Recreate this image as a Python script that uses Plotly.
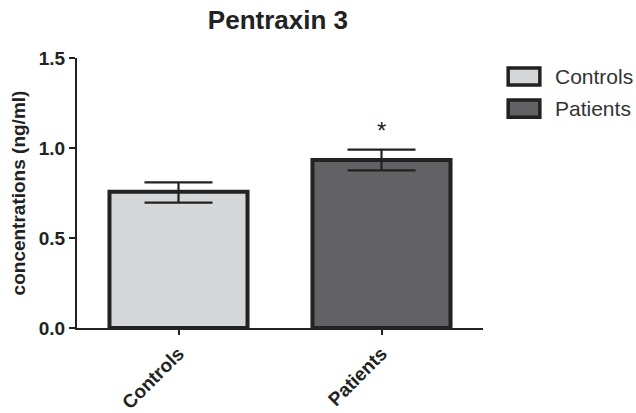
import plotly.graph_objects as go

# Pentraxin 3 levels (mean ± SEM)
groups = ["Controls", "Patients"]
means = [0.757, 0.933]
sem_up = [0.052, 0.058]
sem_down = [0.060, 0.057]
fills = ["#d6d7d9", "#626264"]
y_ticks = [0.0, 0.5, 1.0, 1.5]
y_tick_text = ["0.0", "0.5", "1.0", "1.5"]

INK = "#222222"
FONT = "Liberation Sans, Arial, sans-serif"

fig = go.Figure()
for g, m, up, dn, c in zip(groups, means, sem_up, sem_down, fills):
    fig.add_trace(go.Bar(
        x=[g], y=[m], name=g,
        marker=dict(color=c, line=dict(color=INK, width=4)),
        width=0.68,
        error_y=dict(type="data", symmetric=False, array=[up], arrayminus=[dn],
                     color=INK, thickness=2.2, width=34),
        showlegend=False,
    ))

# significance marker above the patients bar
fig.add_annotation(x=groups[1], y=means[1] + sem_up[1], text="*", showarrow=False,
                   yanchor="bottom", yshift=4,
                   font=dict(family=FONT, size=24, color=INK))

# legend: swatches with labels
legend_rows = [(0.963, 0.9), (0.844, 0.781)]
for (y1, y0), g, c in zip(legend_rows, groups, fills):
    fig.add_shape(type="rect", xref="paper", yref="paper",
                  x0=1.062, x1=1.14, y0=y0, y1=y1,
                  fillcolor=c, line=dict(color=INK, width=3.5))
    fig.add_annotation(xref="paper", yref="paper", x=1.172, y=(y0 + y1) / 2,
                       text=g, showarrow=False, xanchor="left", yanchor="middle",
                       font=dict(family=FONT, size=21, color="#333333"))

fig.update_layout(
    width=636, height=413,
    margin=dict(l=77, r=153, t=58, b=85),
    paper_bgcolor="white", plot_bgcolor="white",
    title=dict(text="<b>Pentraxin 3</b>", x=0.437, xanchor="center",
               y=0.952, yanchor="middle",
               font=dict(family=FONT, size=26, color=INK)),
    xaxis=dict(
        range=[-0.5, 1.5], showline=True, linecolor=INK, linewidth=2,
        ticks="outside", ticklen=5, tickwidth=2, tickcolor=INK,
        tickangle=-45, showgrid=False, zeroline=False, automargin=False,
        tickfont=dict(family=FONT, size=19, color=INK),
        tickvals=groups, ticktext=["<b>%s</b>" % g for g in groups],
    ),
    yaxis=dict(
        range=[0, 1.5], showline=True, linecolor=INK, linewidth=2,
        ticks="outside", ticklen=6, tickwidth=2, tickcolor=INK,
        tickvals=y_ticks, ticktext=["<b>%s</b>" % t for t in y_tick_text],
        showgrid=False, zeroline=False, automargin=False,
        tickfont=dict(family=FONT, size=19, color=INK),
        title=dict(text="<b>concentrations (ng/ml)</b>", standoff=8,
                   font=dict(family=FONT, size=19, color=INK)),
    ),
)

fig.write_html("out.html")
